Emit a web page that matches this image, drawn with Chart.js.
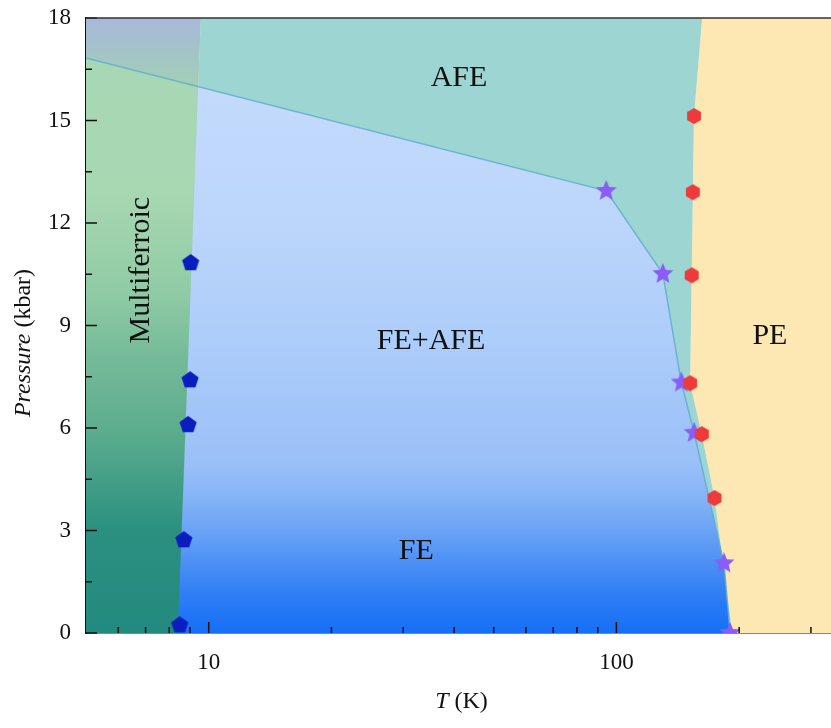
<!DOCTYPE html>
<html>
<head>
<meta charset="utf-8">
<script src="https://cdn.jsdelivr.net/npm/chart.js@4.4.1/dist/chart.umd.min.js"></script>
<style>
html, body { margin: 0; padding: 0; background: #fff; overflow: hidden; }
canvas { display: block; }
</style>
</head>
<body>
<canvas id="phaseChart" width="831" height="728"></canvas>
<script>
// T in K (log axis), P in kbar
var tRange = [5, 336];
var pRange = [0, 18];

// FE / AFE boundary (stars)
var starT = [94.4, 130, 144.3, 155.1, 183.6, 190];
var starP = [12.94, 10.51, 7.33, 5.86, 2.04, 0];

// PE boundary (hexagons)
var hexT = [155, 154, 153, 151.6, 162, 174];
var hexP = [15.13, 12.9, 10.47, 7.31, 5.82, 3.95];

// multiferroic boundary (pentagons)
var pentT = [9.03, 9.0, 8.9, 8.69, 8.49];
var pentP = [10.83, 7.4, 6.09, 2.72, 0.23];

// ends of the phase lines
var peTop = [162.3, 18], peBottom = [192.5, 0];
var mfTop = [9.56, 18], mfBottom = [8.40, 0];
var afeLineStart = [5, 16.83];
var mfLineCross = [9.42, 16.0];

var xTicks = [6, 7, 8, 9, 10, 20, 30, 40, 50, 60, 70, 80, 90, 100, 200, 300];
var xLabels = [10, 100];

var phaseNames = ['AFE', 'FE+AFE', 'FE', 'PE', 'Multiferroic'];
var phaseT = [41.1, 35.1, 32.3, 238, 6.82];
var phaseP = [16.24, 8.55, 2.4, 8.69, 10.62];

function xy(ts, ps) { return ts.map(function (t, i) { return {x: t, y: ps[i]}; }); }
function pt(a) { return {x: a[0], y: a[1]}; }

var pePoly = [pt(peTop)].concat(xy(hexT, hexP), [pt(peBottom), {x: tRange[1], y: pRange[0]}, {x: tRange[1], y: pRange[1]}]);
var afePoly = [pt(mfTop), pt(peTop)].concat(xy(hexT, hexP), [pt(peBottom), pt(mfBottom)]);
var fePoly = [pt(afeLineStart)].concat(xy(starT, starP), [{x: tRange[0], y: pRange[0]}]);
var mfPoly = [pt(mfBottom), {x: tRange[0], y: pRange[0]}, {x: tRange[0], y: pRange[1]}, pt(mfTop)];
var topLeftPoly = [pt(afeLineStart), {x: tRange[0], y: pRange[1]}, pt(mfTop), pt(mfLineCross)];
var feLine = [pt(afeLineStart)].concat(xy(starT, starP));

// vertical gradient, stops given in kbar
function vGradient(stops) {
  return function (context) {
    var chart = context.chart;
    var y = chart.scales.y;
    if (!chart.chartArea || !y) return stops[0][1];
    var g = chart.ctx.createLinearGradient(0, y.getPixelForValue(pRange[0]), 0, y.getPixelForValue(pRange[1]));
    stops.forEach(function (s) { g.addColorStop(s[0] / pRange[1], s[1]); });
    return g;
  };
}

var blueFill = vGradient([[0, '#1570f5'], [1, '#2c7cf5'], [2, '#4a8ff5'], [3, '#6ba3f6'], [4, '#86b4f7'],
  [5, '#9ac0f8'], [8, '#aacbfa'], [12, '#bcd6fb'], [18, '#c6dcfb']]);
var greenFill = vGradient([[0, '#238a7f'], [3, '#2b9080'], [4, '#3c9a85'], [6, '#5ead8f'], [8, '#74ba98'],
  [10, '#90cba5'], [13, '#a8d8b2'], [18, '#a6d6b4']]);
var topLeftFill = vGradient([[16, '#a2cfb6'], [17, '#a3c4c6'], [18, '#a9b8dc']]);

// marker shapes
function shape(r, color, path) {
  var c = document.createElement('canvas');
  c.width = c.height = Math.ceil(2 * r + 2);
  var g = c.getContext('2d');
  g.translate(c.width / 2, c.height / 2);
  g.fillStyle = color;
  g.beginPath();
  path(g, r);
  g.closePath();
  g.fill();
  return c;
}
function regular(n) {
  return function (g, r) {
    for (var i = 0; i < n; i++) {
      var a = -Math.PI / 2 + i * 2 * Math.PI / n;
      g.lineTo(r * Math.cos(a), r * Math.sin(a));
    }
  };
}
function star(g, r) {
  for (var i = 0; i < 10; i++) {
    var a = -Math.PI / 2 + i * Math.PI / 5;
    var rr = i % 2 ? r * 0.45 : r;
    g.lineTo(rr * Math.cos(a), rr * Math.sin(a));
  }
}
var starImg = shape(11, '#8b5cf6', star);
var hexImg = shape(8, '#ee3a3a', regular(6));
var pentImg = shape(9, '#0a1ec0', regular(5));

function region(data, color, order) {
  return {data: data, fill: 'shape', backgroundColor: color, borderColor: 'transparent',
    borderWidth: 0, showLine: false, pointRadius: 0, tension: 0, order: order};
}
function markers(data, img, order) {
  return {data: data, showLine: false, pointStyle: img, pointRadius: 9, order: order};
}

var serif = 'Liberation Serif';

// tick marks inside the frame, axis titles and phase names
var decorPlugin = {
  id: 'decor',
  afterDatasetsDraw: function (chart) {
    var ctx = chart.ctx;
    ctx.save();
    ctx.fillStyle = '#111';
    ctx.font = '30px "' + serif + '"';
    ctx.textAlign = 'center';
    ctx.textBaseline = 'middle';
    phaseNames.forEach(function (name, i) {
      var x = chart.scales.x.getPixelForValue(phaseT[i]);
      var y = chart.scales.y.getPixelForValue(phaseP[i]);
      if (name === 'Multiferroic') {
        ctx.save();
        ctx.translate(x, y);
        ctx.rotate(-Math.PI / 2);
        ctx.fillText(name, 0, 0);
        ctx.restore();
      } else {
        ctx.fillText(name, x, y);
      }
    });
    ctx.restore();
  },
  afterDraw: function (chart) {
    var ctx = chart.ctx, a = chart.chartArea;
    var sx = chart.scales.x, sy = chart.scales.y;
    ctx.save();
    ctx.strokeStyle = '#111';
    ctx.lineWidth = 1.5;
    ctx.beginPath();
    sx.ticks.forEach(function (t) {
      var px = sx.getPixelForValue(t.value);
      var len = xLabels.indexOf(t.value) >= 0 ? 11 : 6;
      ctx.moveTo(px, a.bottom);
      ctx.lineTo(px, a.bottom - len);
    });
    sy.ticks.forEach(function (t) {
      var py = sy.getPixelForValue(t.value);
      var len = t.value % 3 === 0 ? 11 : 6;
      ctx.moveTo(a.left, py);
      ctx.lineTo(a.left + len, py);
    });
    ctx.stroke();
    // top frame line
    ctx.strokeStyle = '#333';
    ctx.beginPath();
    ctx.moveTo(a.left, a.top);
    ctx.lineTo(a.right, a.top);
    ctx.stroke();

    ctx.fillStyle = '#111';
    ctx.textBaseline = 'middle';
    // x title
    var it = 'italic 24px "' + serif + '"', nm = '24px "' + serif + '"';
    ctx.font = it; var w1 = ctx.measureText('T').width;
    ctx.font = nm; var w2 = ctx.measureText(' (K)').width;
    var x0 = (a.left + a.right) / 2 + 3 - (w1 + w2) / 2;
    ctx.textAlign = 'left';
    ctx.font = it; ctx.fillText('T', x0, 702);
    ctx.font = nm; ctx.fillText(' (K)', x0 + w1, 702);
    // y title
    ctx.translate(24, 343);
    ctx.rotate(-Math.PI / 2);
    ctx.font = it; w1 = ctx.measureText('Pressure').width;
    ctx.font = nm; w2 = ctx.measureText(' (kbar)').width;
    ctx.font = it; ctx.fillText('Pressure', -(w1 + w2) / 2, 0);
    ctx.font = nm; ctx.fillText(' (kbar)', -(w1 + w2) / 2 + w1, 0);
    ctx.restore();
  }
};

var ctx = document.getElementById('phaseChart');
var phaseChart = new Chart(ctx, {
  type: 'line',
  data: {
    datasets: [
      region(pePoly, '#fde7b2', 10),
      region(afePoly, '#9dd5d2', 9),
      region(fePoly, blueFill, 8),
      region(mfPoly, greenFill, 7),
      region(topLeftPoly, topLeftFill, 6),
      {data: feLine, borderColor: 'rgba(95,170,205,0.8)', borderWidth: 1.5, pointRadius: 0, fill: false, tension: 0, order: 5},
      markers(xy(pentT, pentP), pentImg, 3),
      markers(xy(starT, starP), starImg, 2),
      markers(xy(hexT, hexP), hexImg, 1)
    ]
  },
  options: {
    responsive: false,
    animation: false,
    layout: {autoPadding: false, padding: {top: 18, left: 0, right: 0, bottom: 0}},
    plugins: {legend: {display: false}, tooltip: {enabled: false}},
    scales: {
      x: {
        type: 'logarithmic',
        min: tRange[0],
        max: tRange[1],
        z: 1,
        afterBuildTicks: function (axis) {
          axis.ticks = xTicks.map(function (v) { return {value: v}; });
        },
        afterFit: function (axis) {
          axis.height = 95;
          axis.paddingLeft = 0;
          axis.paddingRight = 0;
        },
        grid: {display: false, drawTicks: false},
        border: {display: true, color: '#111', width: 1.5},
        ticks: {
          autoSkip: false,
          maxRotation: 0,
          padding: 16,
          color: '#111',
          font: {family: serif, size: 23},
          callback: function (v) { return xLabels.indexOf(v) >= 0 ? String(v) : ''; }
        }
      },
      y: {
        min: pRange[0],
        max: pRange[1],
        z: 1,
        afterFit: function (axis) {
          axis.width = 86;
          axis.paddingTop = 0;
          axis.paddingBottom = 0;
        },
        grid: {display: false, drawTicks: false},
        border: {display: true, color: '#111', width: 1.5},
        ticks: {
          stepSize: 1.5,
          autoSkip: false,
          padding: 15,
          color: '#111',
          font: {family: serif, size: 23},
          callback: function (v) { return v % 3 === 0 ? String(v) : ''; }
        }
      }
    }
  },
  plugins: [decorPlugin]
});
</script>
</body>
</html>
